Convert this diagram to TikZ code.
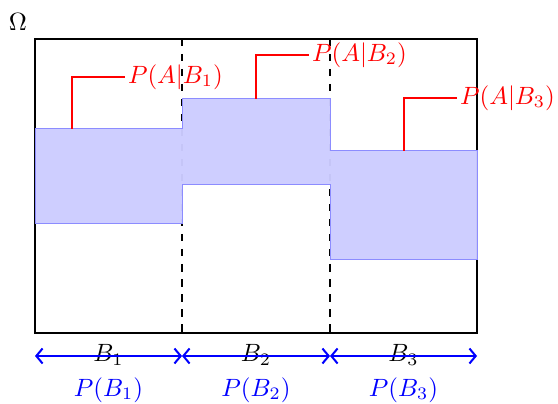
\documentclass[tikz,border=0pt]{standalone}
\usepackage{amsmath}
\usepackage{tikz}
\usetikzlibrary{arrows.meta, positioning}

\begin{document}
\begin{tikzpicture}[x=0.4pt, y=-0.4pt,
    frame/.style={draw=black, line width=1pt},
    band/.style={fill=blue!20, draw=blue!45, line width=0.4pt, fill opacity=0.97},
    leader/.style={draw=red, line width=0.8pt},
    span/.style={draw=blue, line width=0.8pt, {Straight Barb[length=2.5pt, width=6pt]}-{Straight Barb[length=2.5pt, width=6pt]}},
    cond/.style={text=red, anchor=west, inner sep=1pt},
    part/.style={inner sep=0pt},
    prob/.style={text=blue, inner sep=0pt}]
    \useasboundingbox (0,0) rectangle (558,404);

    % sample space
    \node (omega) at (18,22) {$\Omega$};
    \draw[frame] (35,39) rectangle (477,333);
    \coordinate (c1) at (182,39);
    \coordinate (c2) at (330,39);
    \coordinate (d1) at (182,333);
    \coordinate (d2) at (330,333);
    \draw[dashed, line width=0.8pt] (c1) -- (d1);
    \draw[dashed, line width=0.8pt] (c2) -- (d2);

    % event A
    \draw[band] (35,129) -- (182,129) -- (182,99) -- (330,99) -- (330,151) -- (477,151)
        -- (477,260) -- (330,260) -- (330,185) -- (182,185) -- (182,224) -- (35,224) -- cycle;

    % conditional probabilities
    \coordinate (a1) at (72,129);
    \coordinate (a2) at (256,99);
    \coordinate (a3) at (404,151);
    \node[cond] (pab1) at (125,77) {$P(A|B_1)$};
    \node[cond] (pab2) at (309,55) {$P(A|B_2)$};
    \node[cond] (pab3) at (457,98) {$P(A|B_3)$};
    \draw[leader] (a1) |- (pab1.west);
    \draw[leader] (a2) |- (pab2.west);
    \draw[leader] (a3) |- (pab3.west);

    % partition
    \coordinate (e0) at (35,356);
    \coordinate (e1) at (182,356);
    \coordinate (e2) at (330,356);
    \coordinate (e3) at (477,356);
    \node[part] (b1) at (108.5,355) {$B_1$};
    \node[part] (b2) at (256,355) {$B_2$};
    \node[part] (b3) at (403.5,355) {$B_3$};
    \draw[span] (e0) -- (e1);
    \draw[span] (e1) -- (e2);
    \draw[span] (e2) -- (e3);
    \node[prob] (pb1) at (108.5,390) {$P(B_1)$};
    \node[prob] (pb2) at (256,390) {$P(B_2)$};
    \node[prob] (pb3) at (403.5,390) {$P(B_3)$};
\end{tikzpicture}
\end{document}
